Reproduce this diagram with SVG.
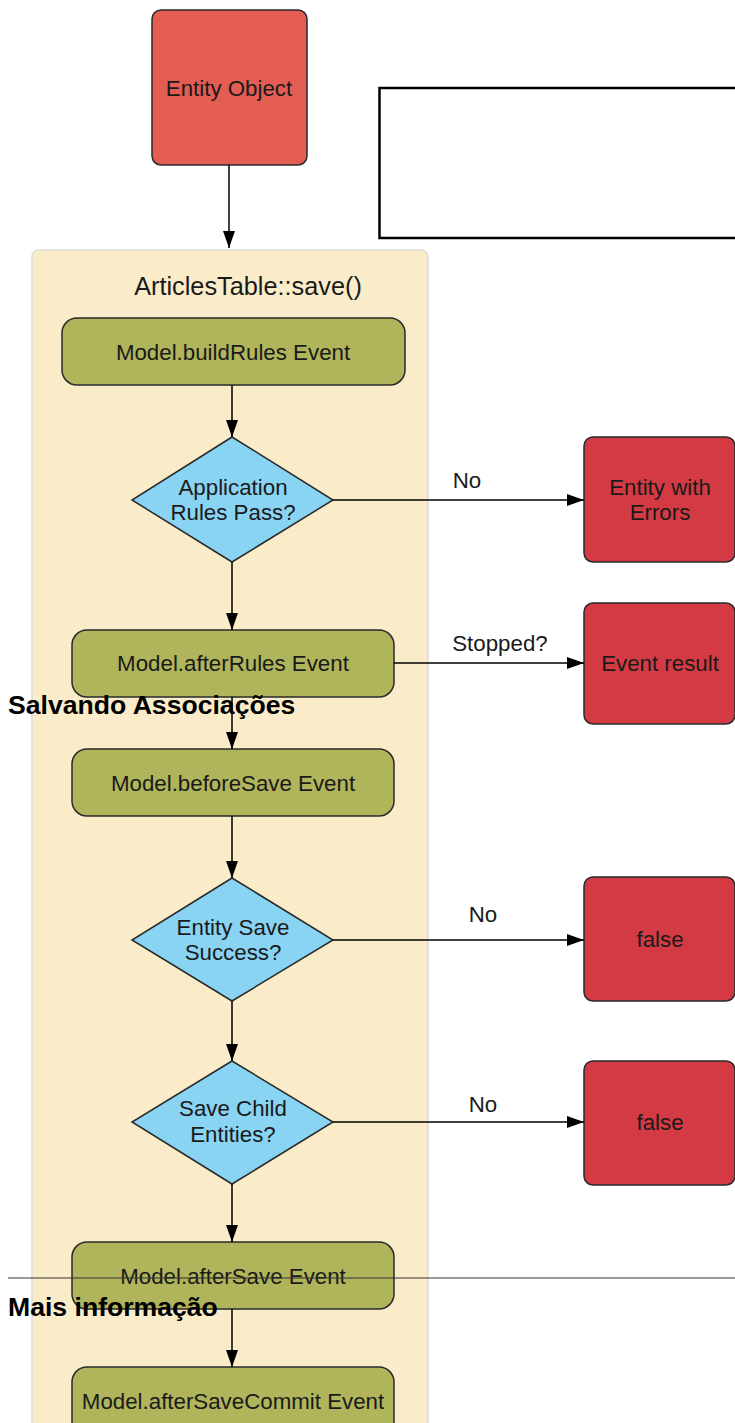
<svg xmlns="http://www.w3.org/2000/svg" width="735" height="1423" viewBox="0 0 735 1423">
<defs>
<marker id="ah" viewBox="0 0 17 12" refX="17" refY="6" markerWidth="17" markerHeight="12" markerUnits="userSpaceOnUse" orient="auto">
<path d="M0,0 L17,6 L0,12 Z" fill="#000"/>
</marker>
</defs>
<style>
text{font-family:"Liberation Sans",Arial,sans-serif;fill:#1a1a1a}
.lbl{font-size:22.3px;text-anchor:middle}
.green{fill:#b0b45b;stroke:#2a2a2a;stroke-width:1.5}
.red{fill:#d43a44;stroke:#2a2a2a;stroke-width:1.5}
.dia{fill:#89d3f3;stroke:#2a2a2a;stroke-width:1.5}
.conn line{stroke:#000;stroke-width:1.5}
.head{font-size:26.6px;font-weight:bold;fill:#000}
</style>
<rect x="0" y="0" width="735" height="1423" fill="#fff"/>
<g id="container">
<rect x="32" y="250" width="396" height="1200" rx="7" fill="#faecc9" stroke="#dcdcdc" stroke-width="1.5"/>
<text x="248" y="295" class="lbl" style="font-size:25.3px">ArticlesTable::save()</text>
</g>
<g id="blank-box">
<rect x="379.5" y="88" width="370" height="150" fill="#fff" stroke="#000" stroke-width="2.5"/>
</g>
<g id="entity-object">
<rect x="152" y="10" width="155" height="155" rx="9" fill="#e35d53" stroke="#2a2a2a" stroke-width="1.5"/>
<text x="229" y="96" class="lbl">Entity Object</text>
</g>
<g id="build-rules">
<rect x="62" y="318" width="343" height="67" rx="15" class="green"/>
<text x="233" y="360" class="lbl">Model.buildRules Event</text>
</g>
<g id="rules-pass">
<polygon points="232,437 333,500 232,562 132,500" class="dia"/>
<text x="233" y="495" class="lbl">Application</text>
<text x="233" y="520" class="lbl">Rules Pass?</text>
</g>
<g id="entity-errors">
<rect x="584" y="437" width="151" height="125" rx="9" class="red"/>
<text x="660" y="495" class="lbl">Entity with</text>
<text x="660" y="520" class="lbl">Errors</text>
</g>
<g id="after-rules">
<rect x="72" y="630" width="322" height="67" rx="15" class="green"/>
<text x="233" y="671" class="lbl">Model.afterRules Event</text>
</g>
<g id="event-result">
<rect x="584" y="603" width="151" height="121" rx="9" class="red"/>
<text x="660" y="671" class="lbl">Event result</text>
</g>
<g id="before-save">
<rect x="72" y="749" width="322" height="67" rx="15" class="green"/>
<text x="233" y="791" class="lbl">Model.beforeSave Event</text>
</g>
<g id="save-success">
<polygon points="232,878 333,940 232,1001 132,940" class="dia"/>
<text x="233" y="935" class="lbl">Entity Save</text>
<text x="233" y="960" class="lbl">Success?</text>
</g>
<g id="false-1">
<rect x="584" y="877" width="151" height="124" rx="9" class="red"/>
<text x="660" y="947" class="lbl">false</text>
</g>
<g id="save-children">
<polygon points="232,1061 333,1122 232,1184 132,1122" class="dia"/>
<text x="233" y="1116" class="lbl">Save Child</text>
<text x="233" y="1142" class="lbl">Entities?</text>
</g>
<g id="false-2">
<rect x="584" y="1061" width="151" height="124" rx="9" class="red"/>
<text x="660" y="1130" class="lbl">false</text>
</g>
<g id="after-save">
<rect x="72" y="1242" width="322" height="67" rx="15" class="green"/>
<text x="233" y="1284" class="lbl">Model.afterSave Event</text>
</g>
<g id="after-save-commit">
<rect x="72" y="1367" width="322" height="70" rx="15" class="green"/>
<text x="233" y="1409" class="lbl">Model.afterSaveCommit Event</text>
</g>
<g id="connectors" class="conn">
<line x1="229" y1="165" x2="229" y2="248" marker-end="url(#ah)"/>
<line x1="232" y1="385" x2="232" y2="437" marker-end="url(#ah)"/>
<line x1="333" y1="500" x2="584" y2="500" marker-end="url(#ah)"/>
<line x1="232" y1="562" x2="232" y2="630" marker-end="url(#ah)"/>
<line x1="394" y1="663" x2="584" y2="663" marker-end="url(#ah)"/>
<line x1="232" y1="697" x2="232" y2="749" marker-end="url(#ah)"/>
<line x1="232" y1="816" x2="232" y2="878" marker-end="url(#ah)"/>
<line x1="333" y1="940" x2="584" y2="940" marker-end="url(#ah)"/>
<line x1="232" y1="1001" x2="232" y2="1061" marker-end="url(#ah)"/>
<line x1="333" y1="1122" x2="584" y2="1122" marker-end="url(#ah)"/>
<line x1="232" y1="1184" x2="232" y2="1242" marker-end="url(#ah)"/>
<line x1="232" y1="1309" x2="232" y2="1367" marker-end="url(#ah)"/>
<text x="467" y="488" class="lbl">No</text>
<text x="500" y="651" class="lbl">Stopped?</text>
<text x="483" y="922" class="lbl">No</text>
<text x="483" y="1112" class="lbl">No</text>
</g>
<g id="page-text">
<text x="8" y="714" class="head">Salvando Associações</text>
<line x1="8" y1="1278" x2="735" y2="1278" stroke="#333" stroke-width="1"/>
<text x="8" y="1316" class="head">Mais informação</text>
</g>
</svg>
